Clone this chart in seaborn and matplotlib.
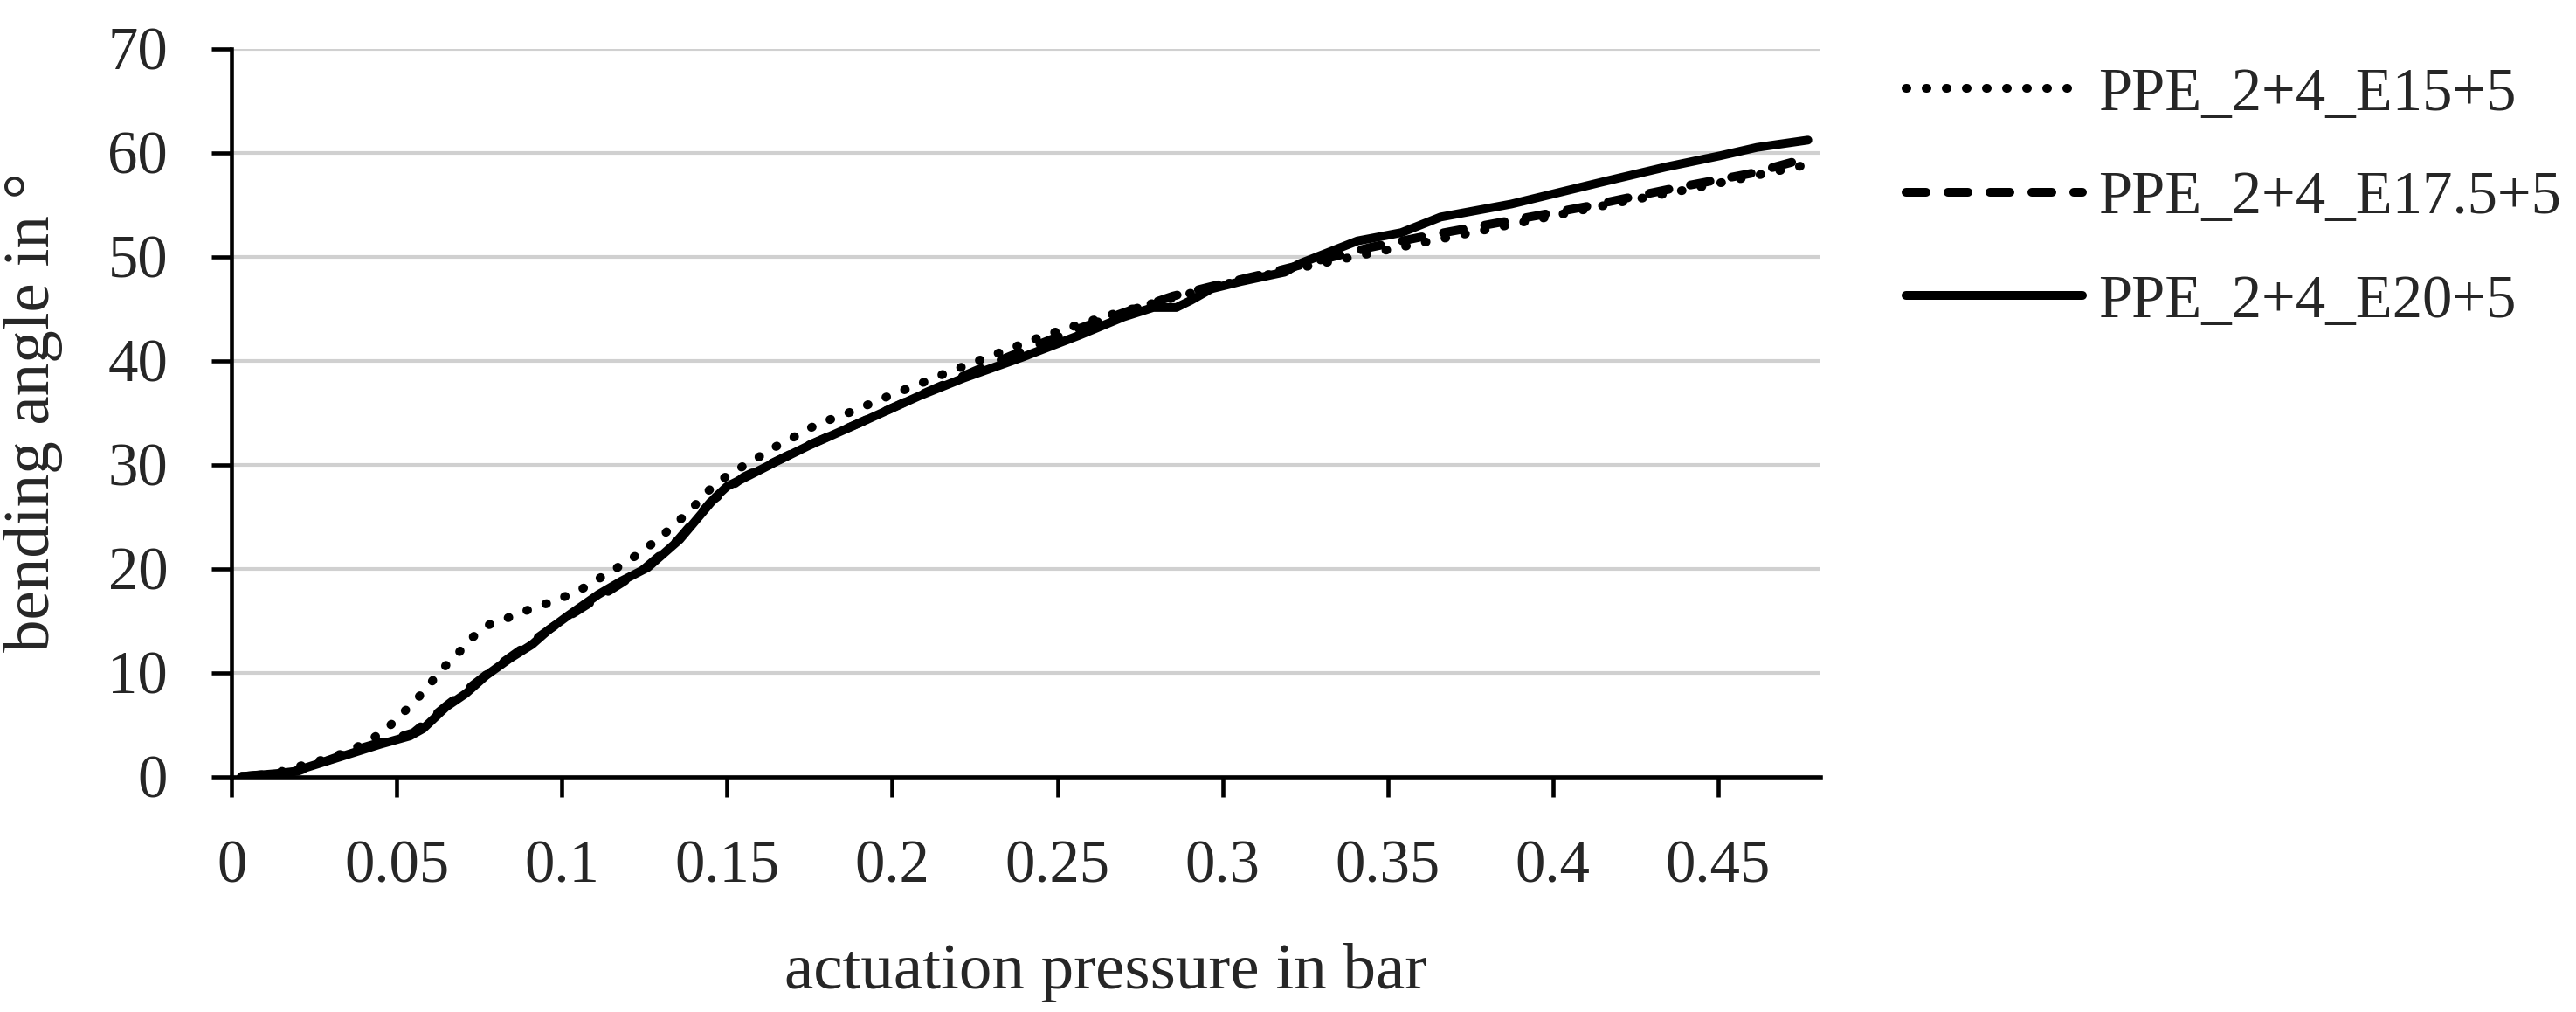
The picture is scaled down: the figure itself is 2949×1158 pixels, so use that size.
import matplotlib
matplotlib.use("Agg")
import matplotlib.pyplot as plt
import seaborn as sns
import pandas as pd

sns.set_style("white")
plt.rcParams['font.family'] = ['Liberation Serif', 'DejaVu Serif']

# PPE_2+4_E15+5 (dotted)
x_e15 = [0.003, 0.012, 0.024, 0.030, 0.036, 0.042, 0.047, 0.0515, 0.056, 0.060,
         0.064, 0.069, 0.073, 0.078, 0.084, 0.090, 0.096, 0.102, 0.108, 0.113,
         0.119, 0.124, 0.1295, 0.134, 0.139, 0.143, 0.148, 0.153, 0.159, 0.164,
         0.170, 0.175, 0.181, 0.187, 0.193, 0.199, 0.205, 0.211, 0.217, 0.223,
         0.229, 0.235, 0.241, 0.247, 0.253, 0.259, 0.265, 0.280, 0.300, 0.320,
         0.340, 0.360, 0.380, 0.400, 0.420, 0.440, 0.460, 0.475]
y_e15 = [0.0, 0.2, 1.3, 1.8, 2.5, 3.5, 4.6, 6.0, 7.4, 8.9,
         10.4, 12.0, 13.4, 14.6, 15.3, 16.05, 16.7, 17.45, 18.35, 19.4,
         20.5, 21.6, 22.9, 24.2, 25.6, 27.1, 28.5, 29.5, 30.6, 31.6,
         32.6, 33.5, 34.3, 35.0, 35.8, 36.6, 37.35, 38.1, 38.9, 39.6,
         40.35, 41.05, 41.8, 42.5, 43.1, 43.7, 44.3, 45.6, 47.3, 48.7,
         50.0, 51.3, 52.6, 53.9, 55.2, 56.4, 57.7, 58.7]

# PPE_2+4_E17.5+5 (dashed)
x_e175 = [0.003, 0.020, 0.040, 0.055, 0.065, 0.080, 0.100, 0.115, 0.125, 0.135,
          0.145, 0.155, 0.175, 0.190, 0.210, 0.225, 0.240, 0.255, 0.270, 0.285,
          0.300, 0.315, 0.330, 0.345, 0.362, 0.386, 0.410, 0.437, 0.460, 0.475]
y_e175 = [0.0, 0.5, 2.8, 4.2, 6.8, 10.5, 15.0, 18.0, 20.0, 22.7,
          26.4, 28.8, 31.9, 34.0, 36.9, 39.0, 41.0, 42.9, 44.6, 46.2,
          47.4, 48.5, 49.7, 50.9, 52.0, 53.4, 54.8, 56.6, 58.0, 59.3]

# PPE_2+4_E20+5 (solid)
x_e20 = [0.003, 0.018, 0.031, 0.045, 0.054, 0.058, 0.065, 0.071, 0.077, 0.084,
         0.091, 0.096, 0.102, 0.111, 0.118, 0.126, 0.1357, 0.141, 0.1463, 0.150,
         0.157, 0.165, 0.1746, 0.1905, 0.2082, 0.2215, 0.2392, 0.2568, 0.2701, 0.279,
         0.286, 0.2905, 0.2966, 0.3055, 0.3143, 0.3188, 0.3232, 0.332, 0.3408, 0.3541,
         0.366, 0.3874, 0.4153, 0.434, 0.4507, 0.4618, 0.4772]
y_e20 = [0.0, 0.4, 1.7, 3.1, 3.9, 4.6, 6.7, 8.0, 9.7, 11.3,
         12.7, 14.1, 15.5, 17.5, 18.8, 20.1, 22.8, 24.8, 26.8, 27.9,
         29.0, 30.3, 31.8, 34.05, 36.6, 38.3, 40.3, 42.45, 44.2, 45.1,
         45.1, 45.8, 46.9, 47.6, 48.2, 48.5, 49.3, 50.4, 51.5, 52.3,
         53.8, 55.05, 57.2, 58.6, 59.7, 60.5, 61.2]

labels = ['PPE_2+4_E15+5', 'PPE_2+4_E17.5+5', 'PPE_2+4_E20+5']
x_ticks = [0, 0.05, 0.1, 0.15, 0.2, 0.25, 0.3, 0.35, 0.4, 0.45]
x_tick_labels = ['0', '0.05', '0.1', '0.15', '0.2', '0.25', '0.3', '0.35', '0.4', '0.45']
y_ticks = [0, 10, 20, 30, 40, 50, 60, 70]

fig = plt.figure(figsize=(9.83, 3.86), dpi=300)
ax = fig.add_axes([0.0899, 0.2327, 0.6168, 0.7193])

styles = [(0, (0.1, 2.2)), (0, (2.3, 2.5)), '-']
series = [(x_e15, y_e15), (x_e175, y_e175), (x_e20, y_e20)]
for (xs, ys), lab, ls in zip(series, labels, styles):
    df = pd.DataFrame({'p': xs, 'a': ys})
    sns.lineplot(data=df, x='p', y='a', ax=ax, color='black', linewidth=2.4,
                 linestyle=ls, label=lab, sort=False, estimator=None)

for line in ax.get_lines():
    line.set_dash_capstyle('round')
    line.set_solid_capstyle('round')

ax.set_xlim(0, 0.481)
ax.set_ylim(0, 70)
ax.set_xticks(x_ticks)
ax.set_xticklabels(x_tick_labels)
ax.set_yticks(y_ticks)

ax.yaxis.grid(True, color='#d0d0d0', linewidth=1.0)
ax.xaxis.grid(False)
ax.set_axisbelow(True)
for side in ['top', 'right']:
    ax.spines[side].set_visible(False)
for side in ['left', 'bottom']:
    ax.spines[side].set_color('black')
    ax.spines[side].set_linewidth(1.1)

ax.tick_params(axis='both', direction='out', length=5.5, width=1.1,
               color='black', labelsize=16.5, pad=12,
               left=True, bottom=True)

ax.set_xlabel('actuation pressure in bar', fontsize=18)
ax.set_ylabel('bending angle in °', fontsize=18)
ax.xaxis.set_label_coords(0.55, -0.229)
ax.yaxis.set_label_coords(-0.106, 0.5)

handles, labs = ax.get_legend_handles_labels()
ax.legend(handles, labs, loc='upper left', bbox_to_anchor=(0.740, 0.9335),
          bbox_transform=fig.transFigure, frameon=False, fontsize=16.5,
          handlelength=2.94, handletextpad=0.26, labelspacing=0.8,
          borderpad=0, borderaxespad=0)

fig.savefig('out.png', dpi=300, facecolor='white')
